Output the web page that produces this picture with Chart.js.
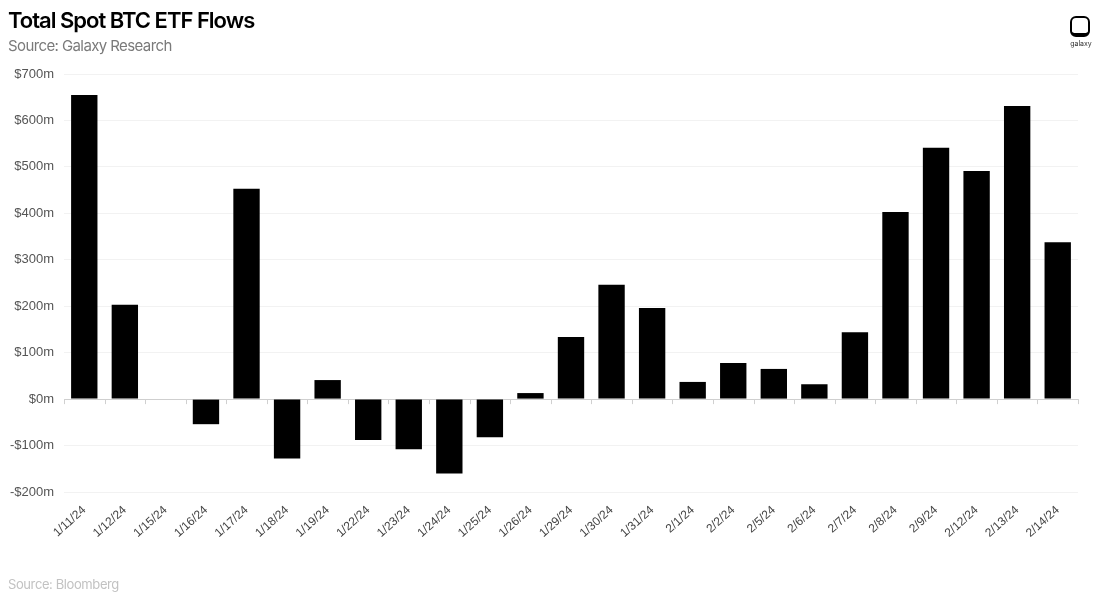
<!DOCTYPE html>
<html>
<head>
<meta charset="utf-8">
<script src="https://cdn.jsdelivr.net/npm/chart.js@4.4.1/dist/chart.umd.min.js"></script>
<style>
  html, body { margin: 0; padding: 0; background: #fff; }
  #wrap { position: relative; width: 1100px; height: 598px; overflow: hidden; }
  #c { position: absolute; left: 0; top: 0; }
  .title { position: absolute; left: 8px; top: 7px; font-family: Inter, sans-serif; font-weight: 600; font-size: 22px; letter-spacing: -1px; color: #000; }
  .sub { position: absolute; left: 8px; top: 36px; font-family: Inter, sans-serif; font-size: 15px; letter-spacing: -0.6px; color: #7a7a7a; }
  .foot { position: absolute; left: 8px; top: 576px; font-family: Inter, sans-serif; font-size: 13px; letter-spacing: -0.4px; color: #c2c2c2; }
  .logo { position: absolute; left: 1070px; top: 16px; width: 20px; height: 21px; border: 2.5px solid #000; border-bottom-width: 4px; border-radius: 6px; box-sizing: border-box; }
  .logotxt { position: absolute; left: 1066px; top: 39px; width: 30px; text-align: center; font-family: Inter, sans-serif; font-size: 7px; color: #333; }
</style>
</head>
<body>
<div id="wrap">
  <canvas id="c" width="1100" height="598"></canvas>
  <div class="title">Total Spot BTC ETF Flows</div>
  <div class="sub">Source: Galaxy Research</div>
  <div class="foot">Source: Bloomberg</div>
  <div class="logo"></div>
  <div class="logotxt">galaxy</div>
</div>
<script>
const categories = ["1/11/24","1/12/24","1/15/24","1/16/24","1/17/24","1/18/24","1/19/24","1/22/24","1/23/24","1/24/24","1/25/24","1/26/24","1/29/24","1/30/24","1/31/24","2/1/24","2/2/24","2/5/24","2/6/24","2/7/24","2/8/24","2/9/24","2/12/24","2/13/24","2/14/24"];
const flows = [655, 203, 0, -54, 453, -128, 41, -88, -108, -160, -82, 13, 134, 246, 196, 37, 78, 65, 32, 144, 403, 541, 491, 631, 338];
const yTicks = [-200, -100, 0, 100, 200, 300, 400, 500, 600, 700];

const zeroTicks = {
  id: 'zeroTicks',
  afterDatasetsDraw(chart) {
    const x = chart.scales.x, y = chart.scales.y, ctx = chart.ctx;
    const y0 = y.getPixelForValue(0);
    const step = x.getPixelForValue(1) - x.getPixelForValue(0);
    ctx.save();
    ctx.strokeStyle = '#d0d0d0';
    ctx.lineWidth = 1;
    for (let i = 0; i <= categories.length; i++) {
      const px = x.getPixelForValue(Math.min(i, categories.length - 1)) + (i < categories.length ? -step / 2 : step / 2);
      ctx.beginPath();
      ctx.moveTo(Math.round(px) + 0.5, y0);
      ctx.lineTo(Math.round(px) + 0.5, y0 + 5);
      ctx.stroke();
    }
    ctx.restore();
  }
};

new Chart(document.getElementById('c'), {
  type: 'bar',
  data: {
    labels: categories,
    datasets: [{
      data: flows,
      backgroundColor: '#000',
      borderWidth: 0,
      barPercentage: 0.65,
      categoryPercentage: 1.0
    }]
  },
  options: {
    responsive: false,
    animation: false,
    layout: { padding: { top: 74, left: 8, right: 22, bottom: 50 } },
    plugins: { legend: { display: false }, tooltip: { enabled: false } },
    scales: {
      x: {
        grid: { display: false },
        border: { display: false },
        ticks: {
          maxRotation: 42, minRotation: 42, autoSkip: false, padding: 3,
          color: '#444', font: { family: 'Liberation Sans', size: 12 }
        },
        afterFit(s) { s.height = 56; }
      },
      y: {
        min: -200, max: 700,
        afterBuildTicks(s) { s.ticks = yTicks.map(v => ({ value: v })); },
        grid: {
          drawTicks: false,
          color: ctx => ctx.tick && ctx.tick.value === 0 ? '#cfcfcf' : '#f2f2f2',
          lineWidth: 1
        },
        border: { display: false },
        ticks: {
          padding: 10,
          color: '#555',
          font: { family: 'Liberation Sans', size: 13 },
          callback: v => (v < 0 ? '-$' + Math.abs(v) : '$' + v) + 'm'
        },
        afterFit(s) { s.width = 56; }
      }
    }
  },
  plugins: [zeroTicks]
});
</script>
</body>
</html>
